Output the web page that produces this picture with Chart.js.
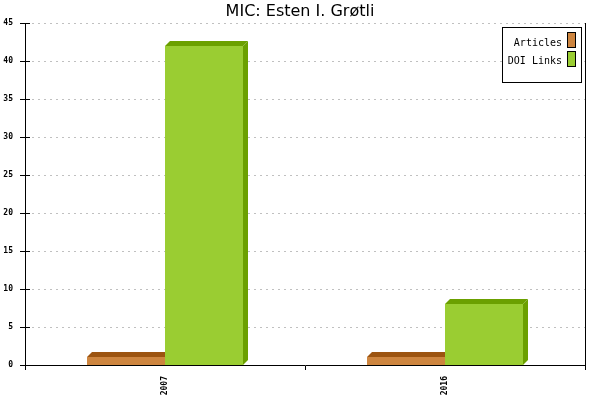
<!DOCTYPE html>
<html>
<head>
<meta charset="utf-8">
<script src="https://cdn.jsdelivr.net/npm/chart.js@4"></script>
<style>
html,body{margin:0;padding:0;background:#fff;}
#wrap{width:600px;height:400px;position:relative;}
</style>
</head>
<body>
<div id="wrap"><canvas id="c" width="600" height="400"></canvas></div>
<script>
const titleText = "MIC: Esten I. Grøtli";
const categories = ["2007", "2016"];
const articles = [1, 1];
const doiLinks = [42, 8];
const seriesNames = ["Articles", "DOI Links"];
const yTicks = [0, 5, 10, 15, 20, 25, 30, 35, 40, 45];

const frontColors = ["#CD853F", "#9ACD32"];
const topColors = ["#9C5410", "#6BA000"];
const sideColors = ["#9C5410", "#6BA000"];
const DEPTH = 5;

const bar3d = {
  id: 'bar3d',
  beforeDatasetDraw() { return false; },
  afterDatasetsDraw(chart) {
    const ctx = chart.ctx;
    const n = chart.data.labels.length;
    for (let i = 0; i < n; i++) {
      chart.data.datasets.forEach((ds, di) => {
        const el = chart.getDatasetMeta(di).data[i];
        if (!el) return;
        const p = el.getProps(['x', 'y', 'base', 'width'], true);
        const l = Math.round(p.x - p.width / 2), r = Math.round(p.x + p.width / 2);
        const t = Math.round(p.y), b = Math.round(p.base);
        ctx.save();
        ctx.fillStyle = sideColors[di];
        ctx.beginPath();
        ctx.moveTo(r, t); ctx.lineTo(r + DEPTH, t - DEPTH); ctx.lineTo(r + DEPTH, b - DEPTH); ctx.lineTo(r, b);
        ctx.closePath(); ctx.fill();
        ctx.fillStyle = topColors[di];
        ctx.beginPath();
        ctx.moveTo(l, t); ctx.lineTo(l + DEPTH, t - DEPTH); ctx.lineTo(r + DEPTH, t - DEPTH); ctx.lineTo(r, t);
        ctx.closePath(); ctx.fill();
        ctx.fillStyle = frontColors[di];
        ctx.fillRect(l, t, r - l, b - t);
        ctx.restore();
      });
    }
  }
};

const decor = {
  id: 'decor',
  afterDraw(chart) {
    const ctx = chart.ctx;
    const a = chart.chartArea;
    const ys = chart.scales.y;
    ctx.save();
    ctx.fillStyle = '#000';
    ctx.font = '16px "DejaVu Sans"';
    ctx.textAlign = 'center';
    ctx.textBaseline = 'alphabetic';
    ctx.fillText(titleText, 300, 16);
    ctx.strokeStyle = '#000';
    ctx.lineWidth = 1;
    ctx.beginPath();
    ctx.moveTo(Math.round(a.right) + 0.5, a.top);
    ctx.lineTo(Math.round(a.right) + 0.5, a.bottom + 5);
    ctx.stroke();
    yTicks.forEach(v => {
      const y = Math.round(ys.getPixelForValue(v)) + 0.5;
      ctx.beginPath();
      ctx.moveTo(a.left, y);
      ctx.lineTo(a.left + 5, y);
      ctx.stroke();
    });
    const lx = 502.5, ly = 27.5, lw = 79, lh = 55;
    ctx.fillStyle = '#fff';
    ctx.fillRect(lx, ly, lw, lh);
    ctx.strokeRect(lx, ly, lw, lh);
    ctx.font = '10px "DejaVu Sans Mono"';
    ctx.textAlign = 'right';
    ctx.textBaseline = 'middle';
    chart.data.datasets.forEach((ds, di) => {
      const cy = 43 + di * 18;
      ctx.fillStyle = '#000';
      ctx.fillText(ds.label, 562, cy);
      const by = 33 + di * 19;
      ctx.fillStyle = frontColors[di];
      ctx.fillRect(568, by, 7, 14);
      ctx.strokeRect(567.5, by - 0.5, 8, 15);
    });
    ctx.restore();
  }
};

new Chart(document.getElementById('c'), {
  type: 'bar',
  data: {
    labels: categories,
    datasets: [
      { label: seriesNames[0], data: articles, backgroundColor: frontColors[0] },
      { label: seriesNames[1], data: doiLinks, backgroundColor: frontColors[1] }
    ]
  },
  options: {
    responsive: false,
    animation: false,
    devicePixelRatio: 1,
    layout: { padding: { top: 23, right: 15, left: 0, bottom: 0 } },
    plugins: { legend: { display: false }, title: { display: false }, tooltip: { enabled: false } },
    datasets: { bar: { categoryPercentage: 0.56, barPercentage: 1.0 } },
    scales: {
      x: {
        offset: true,
        grid: { offset: true, drawOnChartArea: false, tickLength: 5, color: '#000' },
        border: { display: true, color: '#000', width: 1 },
        ticks: { minRotation: 90, maxRotation: 90, color: '#000', font: { family: 'DejaVu Sans Mono', size: 8, weight: 'bold' }, padding: 6 },
        afterFit(s) { s.height = 35; }
      },
      y: {
        min: 0, max: 45,
        afterBuildTicks(s) { s.ticks = yTicks.map(v => ({ value: v })); },
        grid: { color: '#c0c0c0', tickColor: '#000', tickLength: 5, tickBorderDash: [], lineWidth: 1 },
        border: { display: true, color: '#000', width: 1, dash: [2, 4] },
        ticks: { color: '#000', font: { family: 'DejaVu Sans Mono', size: 8, weight: 'bold' }, padding: 7 },
        afterFit(s) { s.width = 25; }
      }
    }
  },
  plugins: [bar3d, decor]
});
</script>
</body>
</html>
